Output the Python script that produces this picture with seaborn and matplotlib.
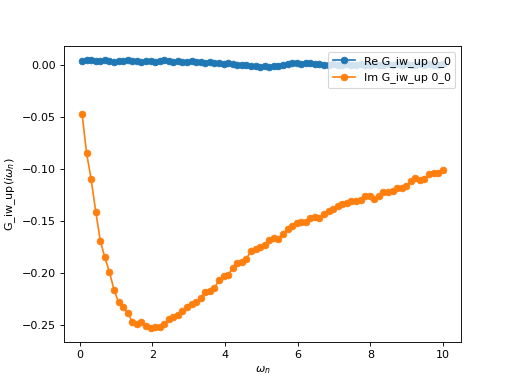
import matplotlib as mpl
mpl.use('Agg')
import matplotlib.pyplot as plt
import numpy as np
import pandas as pd
import seaborn as sns

# Matsubara frequencies (beta = 50)
iw = [0.0628, 0.1885, 0.3142, 0.4398, 0.5655, 0.6912, 0.8168, 0.9425, 1.0681, 1.1938,
      1.3195, 1.4451, 1.5708, 1.6965, 1.8221, 1.9478, 2.0735, 2.1991, 2.3248, 2.4504,
      2.5761, 2.7018, 2.8274, 2.9531, 3.0788, 3.2044, 3.3301, 3.4558, 3.5814, 3.7071,
      3.8327, 3.9584, 4.0841, 4.2097, 4.3354, 4.4611, 4.5867, 4.7124, 4.8381, 4.9637,
      5.0894, 5.2150, 5.3407, 5.4664, 5.5920, 5.7177, 5.8434, 5.9690, 6.0947, 6.2204,
      6.3460, 6.4717, 6.5973, 6.7230, 6.8487, 6.9743, 7.1000, 7.2257, 7.3513, 7.4770,
      7.6027, 7.7283, 7.8540, 7.9796, 8.1053, 8.2310, 8.3566, 8.4823, 8.6080, 8.7336,
      8.8593, 8.9850, 9.1106, 9.2363, 9.3619, 9.4876, 9.6133, 9.7389, 9.8646, 9.9903]

re_g = [0.004, 0.005, 0.005, 0.004, 0.004, 0.005, 0.004, 0.003, 0.004, 0.004,
        0.005, 0.004, 0.004, 0.003, 0.004, 0.004, 0.003, 0.004, 0.005, 0.004,
        0.003, 0.004, 0.003, 0.003, 0.004, 0.003, 0.003, 0.002, 0.003, 0.002,
        0.002, 0.001, 0.002, 0.001, 0.000, 0.000, 0.000, -0.001, -0.001, -0.002,
        -0.001, -0.002, -0.001, -0.001, 0.000, 0.001, 0.002, 0.002, 0.001, 0.002,
        0.002, 0.001, 0.001, 0.000, 0.000, 0.001, 0.000, 0.000, 0.001, 0.000,
        0.000, 0.001, 0.000, 0.000, 0.001, 0.000, 0.000, 0.001, 0.000, 0.001,
        0.000, 0.001, 0.000, 0.000, 0.001, 0.000, 0.001, 0.000, 0.000, 0.001]

im_g = [-0.047, -0.085, -0.110, -0.141, -0.169, -0.185, -0.199, -0.216, -0.228, -0.233,
        -0.238, -0.247, -0.249, -0.247, -0.251, -0.253, -0.252, -0.252, -0.249, -0.244,
        -0.242, -0.240, -0.236, -0.233, -0.230, -0.228, -0.224, -0.218, -0.217, -0.214,
        -0.207, -0.203, -0.202, -0.195, -0.190, -0.189, -0.186, -0.179, -0.177, -0.175,
        -0.173, -0.168, -0.166, -0.167, -0.162, -0.158, -0.155, -0.152, -0.151, -0.151,
        -0.147, -0.146, -0.147, -0.143, -0.140, -0.138, -0.136, -0.134, -0.133, -0.131,
        -0.131, -0.130, -0.126, -0.126, -0.129, -0.126, -0.122, -0.122, -0.121, -0.118,
        -0.118, -0.116, -0.112, -0.109, -0.111, -0.110, -0.105, -0.104, -0.104, -0.101]

fig, ax = plt.subplots(figsize=(6.4, 4.8), dpi=80)

sns.lineplot(x=iw, y=re_g, ax=ax, marker='o', color='C0', markeredgecolor='C0',
             label='Re G_iw_up 0_0')
sns.lineplot(x=iw, y=im_g, ax=ax, marker='o', color='C1', markeredgecolor='C1',
             label='Im G_iw_up 0_0')

ax.set_xlabel(r'$\omega_n$')
ax.set_ylabel(r'G_iw_up$(i\omega_n)$')
ax.legend(loc='upper right')

plt.savefig('out.png')
